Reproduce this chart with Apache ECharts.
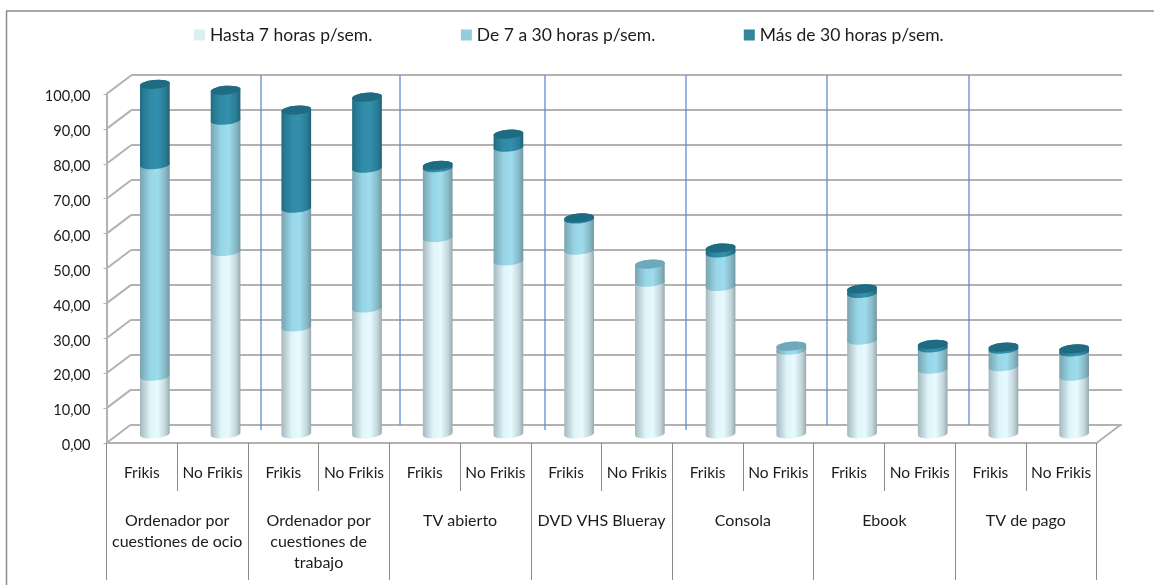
<!DOCTYPE html>
<html><head><meta charset="utf-8">
<style>html,body{margin:0;padding:0;background:#fff}#c{width:1154px;height:585px}</style>
<script src="https://cdn.jsdelivr.net/npm/echarts@6/dist/echarts.min.js"></script>
</head><body><div id="c"></div>
<script>
const groupLabels = ['Ordenador por\ncuestiones de ocio','Ordenador por\ncuestiones de\ntrabajo','TV abierto','DVD VHS Blueray','Consola','Ebook','TV de pago'];
const subLabels = ['Frikis','No Frikis','Frikis','No Frikis','Frikis','No Frikis','Frikis','No Frikis','Frikis','No Frikis','Frikis','No Frikis','Frikis','No Frikis'];
const seriesNames = ['Hasta 7 horas p/sem.','De 7 a 30 horas p/sem.','Más de 30 horas p/sem.'];
const hasta7 = [16.6,52.3,30.7,36.1,56.3,49.6,52.7,43.5,42.3,24,26.9,18.6,19.3,16.6];
const de7a30 = [60.6,37.6,34,40.1,20,32.6,8.9,5.2,9.6,1.2,13.4,6.1,5,6.9];
const mas30  = [23,8.6,28.1,20.3,0.7,3.7,0.3,0,1.4,0,1.3,1,0.6,0.9];
const seriesValues = [hasta7,de7a30,mas30];
const yTicks = [0,10,20,30,40,50,60,70,80,90,100];

const legendColors = ['#daeef3','#92cddc','#31859c'];
const capColors = ['#c5dfe6','#6fa8ba','#1f6b82'];
const bodyStops = [
  [[0,'#a3b6bc'],[0.12,'#b9cdd3'],[0.35,'#dff5fa'],[0.6,'#e6fbff'],[0.85,'#c3d6db'],[1,'#98a9ae']],
  [[0,'#7aa3ae'],[0.12,'#82b5c4'],[0.35,'#98d6e7'],[0.6,'#9edced'],[0.85,'#86b9c7'],[1,'#71979f']],
  [[0,'#236a80'],[0.12,'#277a93'],[0.35,'#308ba8'],[0.6,'#338fac'],[0.85,'#297d96'],[1,'#1f6276']]
];
const stopsOf = a => a.map(s => ({offset:s[0],color:s[1]}));
const hGrad = a => ({type:'linear',x:0,y:0,x2:1,y2:0,colorStops:stopsOf(a)});
const gridColor = '#b2b2b2', axisColor = '#8a8a8a', textColor = '#1c1c1c', font = 'Lato';
const depthX = 24.5, depthY = 18.5;

function segmentData(k){
  return subLabels.map((_,i)=>{
    let start=0; for(let j=0;j<k;j++) start+=seriesValues[j][i];
    const isTop = seriesValues[k][i]>0 && seriesValues.slice(k+1).every(s=>s[i]===0);
    return [i,start,start+seriesValues[k][i],isTop?1:0];
  });
}
function renderer(k){
  return function(params,api){
    const i=api.value(0), s=api.value(1), e=api.value(2), top=api.value(3);
    if(e<=s) return {type:'group',children:[]};
    const x=api.coord([i,s])[0], y0=api.coord([i,s])[1], y1=api.coord([i,e])[1];
    const r=api.size([1,0])[0]*0.21, ry=4.4, t=1.4, rot=-5;
    const body=`M${x-r} ${y0+t}A${r} ${ry} ${rot} 0 0 ${x+r} ${y0-t}L${x+r} ${y1-t}A${r} ${ry} ${rot} 0 0 ${x-r} ${y1+t}Z`;
    const children=[{type:'path',shape:{pathData:body},style:{fill:hGrad(bodyStops[k])}}];
    if(top){
      const cap=`M${x-r} ${y1+t}A${r} ${ry} ${rot} 0 0 ${x+r} ${y1-t}A${r} ${ry} ${rot} 0 0 ${x-r} ${y1+t}Z`;
      children.push({type:'path',shape:{pathData:cap},style:{fill:capColors[k]}});
    }
    return {type:'group',children};
  };
}
function renderDepth(params,api){
  const rect=params.coordSys, v=api.value(0), p=api.coord([0,v]), lines=[];
  const style={stroke:gridColor,lineWidth:2};
  lines.push({type:'line',shape:{x1:rect.x,y1:p[1],x2:rect.x+depthX,y2:p[1]-depthY},style});
  if(v===0) lines.push({type:'line',shape:{x1:rect.x+rect.width,y1:p[1],x2:rect.x+rect.width+depthX,y2:p[1]-depthY},style});
  return {type:'group',children:lines};
}
const separators = [[261,430],[400,425],[545,430],[686,430],[827,425],[969,425]];

const option = {
  backgroundColor:'#fff',
  animation:false,
  textStyle:{fontFamily:font},
  legend:{
    data:seriesNames,left:189,top:21,itemWidth:11,itemHeight:11,itemGap:88.5,icon:'rect',
    textStyle:{fontFamily:font,fontSize:17.5,color:textColor},itemStyle:{borderWidth:0}
  },
  grid:[
    {left:131,right:32,top:75,bottom:160},
    {left:106.5,right:57.5,top:94,bottom:142},
    {left:119.5,right:44.5,top:85,bottom:151}
  ],
  xAxis:[
    {gridIndex:0,type:'category',data:subLabels,show:false},
    {gridIndex:1,type:'category',data:subLabels,position:'bottom',
      axisLine:{lineStyle:{color:gridColor,width:2}},
      axisTick:{show:true,length:48,lineStyle:{color:axisColor,width:1}},
      axisLabel:{interval:0,margin:22,fontSize:15.5,color:textColor,fontFamily:font}},
    {gridIndex:1,type:'category',data:groupLabels,position:'bottom',
      axisLine:{show:false},
      axisTick:{show:true,length:137,lineStyle:{color:axisColor,width:1}},
      axisLabel:{interval:0,margin:67,fontSize:16,lineHeight:21,color:textColor,fontFamily:font,verticalAlign:'top'}},
    {gridIndex:2,type:'category',data:subLabels,show:false}
  ],
  yAxis:[
    {gridIndex:0,type:'value',min:0,max:100,interval:10,axisLine:{show:false},axisTick:{show:false},axisLabel:{show:false},
      splitLine:{show:true,lineStyle:{color:gridColor,width:2}}},
    {gridIndex:1,type:'value',min:0,max:100,interval:10,splitLine:{show:false},
      axisLine:{show:true,lineStyle:{color:gridColor,width:2}},
      axisTick:{show:true,length:3,lineStyle:{color:gridColor,width:1}},
      axisLabel:{margin:16,color:textColor,fontFamily:font,
        formatter:v=>'{t|'+v.toFixed(2).replace('.',',')+'}',
        rich:{t:{fontSize:14.6,fontFamily:font,color:textColor,padding:[5,0,0,0]}}}},
    {gridIndex:2,type:'value',min:0,max:100,show:false,splitLine:{show:false}}
  ],
  series:[
    {type:'custom',name:'depth',xAxisIndex:1,yAxisIndex:1,data:yTicks.map(v=>[v]),renderItem:renderDepth,encode:{y:0},silent:true,z:1,clip:false,legendHoverLink:false},
    ...seriesNames.map((n,k)=>({
      type:'custom',name:n,xAxisIndex:3,yAxisIndex:2,data:segmentData(k),
      renderItem:renderer(k),encode:{x:0,y:[1,2]},z:5+k,clip:false,
      itemStyle:{color:legendColors[k]}
    }))
  ],
  graphic:[
    {type:'line',silent:true,z:0,shape:{x1:6.5,y1:11,x2:6.5,y2:585},style:{stroke:axisColor,lineWidth:1.5}},
    {type:'line',silent:true,z:0,shape:{x1:6,y1:11,x2:1154,y2:11},style:{stroke:axisColor,lineWidth:1.5}},
    ...separators.map(s=>({type:'line',silent:true,z:3,shape:{x1:s[0],y1:75,x2:s[0],y2:s[1]},style:{stroke:'#5f8fd0',lineWidth:1.3}}))
  ]
};
echarts.init(document.getElementById('c'),null,{renderer:'canvas'}).setOption(option);
</script></body></html>
